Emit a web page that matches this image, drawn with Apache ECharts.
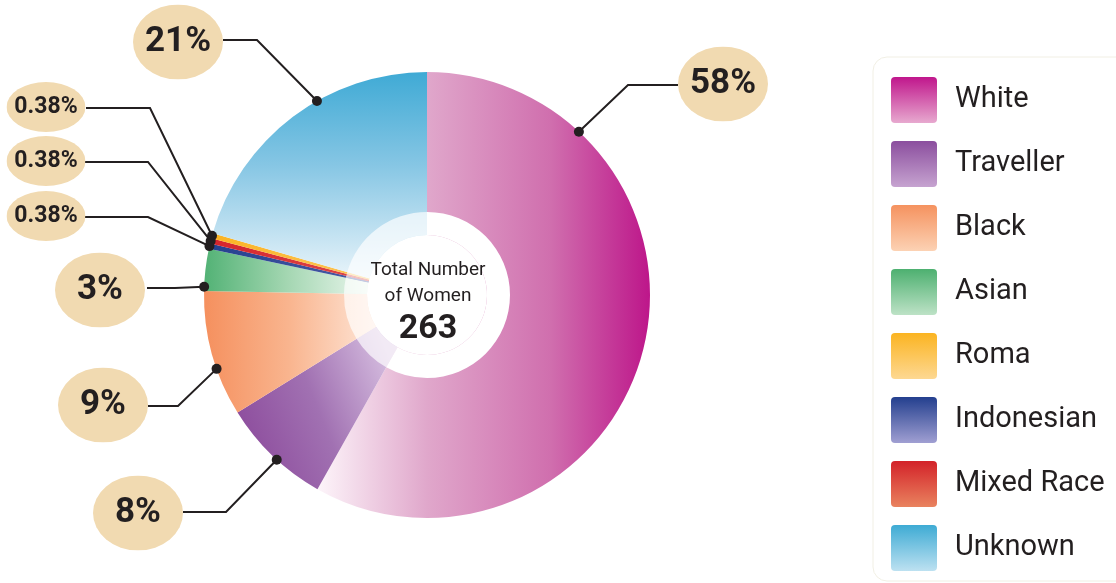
<!DOCTYPE html>
<html>
<head>
<meta charset="utf-8">
<script src="https://cdn.jsdelivr.net/npm/echarts@6/dist/echarts.min.js"></script>
<style>
  html, body { margin: 0; padding: 0; background: #ffffff; }
  #chart { width: 1116px; height: 583px; }
</style>
</head>
<body>
<div id="chart"></div>
<script>
// Women by ethnicity (pie slices run clockwise from 12 o'clock)
const categories = ['White', 'Traveller', 'Black', 'Asian', 'Indonesian', 'Mixed Race', 'Roma', 'Unknown'];
const counts = [153, 21, 24, 8, 1, 1, 1, 54];
const legendOrder = ['White', 'Traveller', 'Black', 'Asian', 'Roma', 'Indonesian', 'Mixed Race', 'Unknown'];
const centerTitle = ['Total Number', 'of Women'];

const total = counts.reduce((a, b) => a + b, 0);

// Geometry of the doughnut
const CX = 427, CY = 295, R_OUT = 223, R_IN = 60, R_RING = 83;

function lin(x, y, x2, y2, stops) {
  return { type: 'linear', x: x, y: y, x2: x2, y2: y2,
    colorStops: stops.map(s => ({ offset: s[0], color: s[1] })) };
}

// Slice fills
const sliceFill = {
  'White':      lin(0, 0, 1, 0, [[0, '#fdf5fa'], [0.33, '#e0a7cb'], [0.7, '#d06fae'], [1, '#bd168a']]),
  'Traveller':  lin(0, 0.7, 1, 0.3, [[0, '#8c4b9c'], [0.5, '#a171b2'], [1, '#d6bee0']]),
  'Black':      lin(0, 0, 1, 0, [[0, '#f5905e'], [0.5, '#f9b58f'], [1, '#fee6d8']]),
  'Asian':      lin(0, 0, 1, 0, [[0, '#52b275'], [0.5, '#a3d6b1'], [1, '#eaf6ed']]),
  'Indonesian': lin(0, 0, 1, 0, [[0, '#24408f'], [1, '#4a5ca6']]),
  'Mixed Race': lin(0, 0, 1, 0, [[0, '#d4232b'], [1, '#de4a4a']]),
  'Roma':       lin(0, 0, 1, 0, [[0, '#fbb322'], [1, '#fcc65a']]),
  'Unknown':    lin(0, 0, 0, 1, [[0, '#3faad5'], [0.45, '#86c6e4'], [1, '#e9f4fa']])
};

// Legend swatches (dark top, light bottom)
const swatchFill = {
  'White':      ['#c0168c', '#e7a9cf'],
  'Traveller':  ['#8b4e9e', '#c6a3d0'],
  'Black':      ['#f5925f', '#fcd2b4'],
  'Asian':      ['#4db070', '#bde2c6'],
  'Roma':       ['#fbb421', '#fdd892'],
  'Indonesian': ['#233f8e', '#a09fd2'],
  'Mixed Race': ['#d32229', '#e9835f'],
  'Unknown':    ['#3eabd4', '#bde1f1']
};

// Callout placement: label centre, elbow, line end, and where along the slice the line starts
const callout = {
  'White':      { x: 723, y: 84,  elbow: [628, 85],  end: [678, 85],  at: 0.205 },
  'Unknown':    { x: 178, y: 42,  elbow: [257, 40],  end: [223, 40],  at: 0.6 },
  'Roma':       { x: 46,  y: 107, elbow: [150, 108], end: [86, 108],  at: 0.5 },
  'Mixed Race': { x: 46,  y: 161, elbow: [148, 162], end: [85, 162],  at: 0.5 },
  'Indonesian': { x: 46,  y: 216, elbow: [148, 217], end: [85, 217],  at: 0.5 },
  'Asian':      { x: 100, y: 290, elbow: [175, 288], end: [147, 288], at: 0.1 },
  'Black':      { x: 103, y: 405, elbow: [178, 406], end: [148, 406], at: 0.38 },
  'Traveller':  { x: 138, y: 513, elbow: [226, 512], end: [183, 512], at: 0.45 }
};

// Point on the outer rim where a slice's leader line starts
function anchorPoint(i) {
  let before = 0;
  for (let k = 0; k < i; k++) before += counts[k];
  const frac = (before + counts[i] * callout[categories[i]].at) / total;
  const a = frac * Math.PI * 2;
  return [CX + R_OUT * Math.sin(a), CY - R_OUT * Math.cos(a)];
}

function ellipseImage(w, h) {
  const svg = '<svg xmlns="http://www.w3.org/2000/svg" width="' + w + '" height="' + h +
    '" viewBox="0 0 ' + w + ' ' + h + '"><ellipse cx="' + (w / 2) + '" cy="' + (h / 2) +
    '" rx="' + (w / 2) + '" ry="' + (h / 2) + '" fill="#f1dab1"/></svg>';
  return 'data:image/svg+xml;charset=utf-8,' + encodeURIComponent(svg);
}
const bigBubble = ellipseImage(90, 75);
const smallBubble = ellipseImage(79, 50);

function percentText(v) {
  const p = v / total * 100;
  return p < 1 ? p.toFixed(2) + '%' : Math.round(p) + '%';
}

function bubbleLabel(v) {
  const small = v / total * 100 < 1;
  return {
    width: small ? 79 : 90,
    height: small ? 50 : 75,
    lineHeight: small ? 50 : 75,
    fontSize: small ? 23 : 35,
    backgroundColor: { image: small ? smallBubble : bigBubble }
  };
}

const pieData = categories.map((c, i) => ({
  name: c,
  value: counts[i],
  itemStyle: { color: sliceFill[c] },
  label: bubbleLabel(counts[i])
}));

// Pale ring around the hole: solid over the White slice, see-through elsewhere
const ringData = categories.map((c, i) => ({
  name: c,
  value: counts[i],
  itemStyle: { color: c === 'White' ? '#ffffff' : 'rgba(255,255,255,0.68)' }
}));

const dots = categories.map((c, i) => {
  const p = anchorPoint(i);
  return { type: 'circle', shape: { cx: p[0], cy: p[1], r: 5 }, style: { fill: '#231f20' }, z: 100 };
});

const chart = echarts.init(document.getElementById('chart'), null, { renderer: 'canvas' });

chart.setOption({
  animation: false,
  legend: {
    orient: 'vertical',
    left: 873,
    top: 57,
    padding: [20, 90, 10, 18],
    backgroundColor: '#ffffff',
    borderColor: '#f1efe4',
    borderWidth: 1,
    borderRadius: 14,
    itemWidth: 46,
    itemHeight: 46,
    itemGap: 18,
    selectedMode: false,
    icon: 'path://M4,0 H42 A4,4 0 0 1 46,4 V42 A4,4 0 0 1 42,46 H4 A4,4 0 0 1 0,42 V4 A4,4 0 0 1 4,0 Z',
    textStyle: { fontFamily: 'Roboto', fontSize: 29, color: '#231f20', padding: [0, 0, 0, 13] },
    data: legendOrder.map(n => ({
      name: n,
      itemStyle: { color: lin(0, 0, 0, 1, [[0, swatchFill[n][0]], [1, swatchFill[n][1]]]) }
    }))
  },
  graphic: dots.concat([
    { type: 'text', x: CX + 1, y: 270, z: 100,
      style: { text: centerTitle[0], font: '19px Roboto', fill: '#231f20',
        align: 'center', verticalAlign: 'middle', textAlign: 'center', textVerticalAlign: 'middle' } },
    { type: 'text', x: CX + 1, y: 296, z: 100,
      style: { text: centerTitle[1], font: '19px Roboto', fill: '#231f20',
        align: 'center', verticalAlign: 'middle', textAlign: 'center', textVerticalAlign: 'middle' } },
    { type: 'text', x: CX + 1, y: 329, z: 100,
      style: { text: String(total), font: 'bold 34px Roboto', fill: '#231f20',
        align: 'center', verticalAlign: 'middle', textAlign: 'center', textVerticalAlign: 'middle' } }
  ]),
  series: [
    {
      type: 'pie',
      name: 'Women',
      center: [CX, CY],
      radius: [R_IN, R_OUT],
      startAngle: 90,
      clockwise: true,
      avoidLabelOverlap: false,
      silent: true,
      label: {
        show: true,
        position: 'outside',
        formatter: p => percentText(p.value),
        fontFamily: 'Roboto',
        fontWeight: 'bold',
        color: '#231f20',
        align: 'center',
        verticalAlign: 'middle'
      },
      labelLine: {
        show: true,
        smooth: false,
        lineStyle: { color: '#231f20', width: 2 }
      },
      labelLayout: function (params) {
        const c = callout[categories[params.dataIndex]];
        return {
          x: c.x,
          y: c.y,
          align: 'center',
          verticalAlign: 'middle',
          labelLinePoints: [anchorPoint(params.dataIndex), c.elbow, c.end]
        };
      },
      data: pieData
    },
    {
      type: 'pie',
      name: 'ring',
      center: [CX, CY],
      radius: [R_IN, R_RING],
      startAngle: 90,
      clockwise: true,
      silent: true,
      legendHoverLink: false,
      label: { show: false },
      labelLine: { show: false },
      data: ringData
    }
  ]
});
</script>
</body>
</html>
